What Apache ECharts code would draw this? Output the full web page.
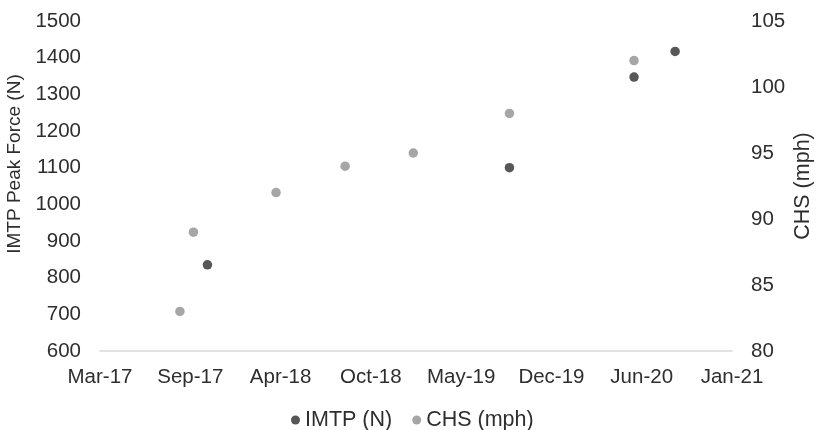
<!DOCTYPE html>
<html>
<head>
<meta charset="utf-8">
<script src="https://cdn.jsdelivr.net/npm/echarts@6/dist/echarts.min.js"></script>
<style>
  html, body { margin: 0; padding: 0; background: #fff; }
  #chart { width: 818px; height: 430px; }
</style>
</head>
<body>
<div id="chart"></div>
<script>
// Test dates and results for each measure
const imtpDates = ['2017-10-30', '2019-08-30', '2020-06-01', '2020-08-31'];
const imtpValues = [835, 1100, 1347, 1417];
const chsDates = ['2017-08-30', '2017-09-29', '2018-03-31', '2018-08-31', '2019-01-29', '2019-08-30', '2020-06-01'];
const chsValues = [83, 89, 92, 94, 95, 98, 102];

// Axis ranges (x in spreadsheet day serials)
const xMin = 42800, xMax = 44200, xStep = 200;
const forceMin = 600, forceMax = 1500, forceStep = 100;
const speedMin = 80, speedMax = 105, speedStep = 5;

const MONTHS = ['Jan','Feb','Mar','Apr','May','Jun','Jul','Aug','Sep','Oct','Nov','Dec'];
const EPOCH = Date.UTC(1899, 11, 30);
const DAY = 86400000;

function toSerial(s) {
  const [y, m, d] = s.split('-').map(Number);
  return Math.round((Date.UTC(y, m - 1, d) - EPOCH) / DAY);
}
function fmtSerial(v) {
  const dt = new Date(EPOCH + v * DAY);
  return MONTHS[dt.getUTCMonth()] + '-' + String(dt.getUTCFullYear() % 100).padStart(2, '0');
}
const plain = v => String(v);

const FONT = 'Liberation Sans, Arial, sans-serif';
const TEXT = '#2e2e2e';
const DARK = '#575757';
const LIGHT = '#a6a6a6';
const TICK_SIZE = 20.5;

const chart = echarts.init(document.getElementById('chart'), null, { renderer: 'canvas' });
chart.setOption({
  animation: false,
  backgroundColor: '#ffffff',
  textStyle: { fontFamily: FONT },
  grid: { left: 100, right: 86, top: 21, bottom: 79, containLabel: false },
  legend: {
    left: 286, top: 404,
    icon: 'circle', itemWidth: 9, itemHeight: 9, itemGap: 20,
    textStyle: { fontFamily: FONT, fontSize: 21.5, color: TEXT },
    data: ['IMTP (N)', 'CHS (mph)']
  },
  xAxis: {
    type: 'value', min: xMin, max: xMax, interval: xStep,
    axisLine: { show: true, lineStyle: { color: '#d9d9d9', width: 1.5 } },
    axisTick: { show: false },
    splitLine: { show: false },
    axisLabel: { formatter: fmtSerial, fontFamily: FONT, fontSize: TICK_SIZE, color: TEXT, margin: 16 }
  },
  yAxis: [
    {
      type: 'value', min: forceMin, max: forceMax, interval: forceStep,
      axisLine: { show: false }, axisTick: { show: false }, splitLine: { show: false },
      axisLabel: { formatter: plain, fontFamily: FONT, fontSize: TICK_SIZE, color: TEXT, margin: 19 }
    },
    {
      type: 'value', position: 'right', min: speedMin, max: speedMax, interval: speedStep,
      axisLine: { show: false }, axisTick: { show: false }, splitLine: { show: false },
      axisLabel: { formatter: plain, fontFamily: FONT, fontSize: TICK_SIZE, color: TEXT, margin: 19 }
    }
  ],
  graphic: [
    {
      type: 'text', x: 14.5, y: 164, rotation: Math.PI / 2,
      style: { text: 'IMTP Peak Force (N)', fontFamily: FONT, fontSize: 19, fill: TEXT,
               textAlign: 'center', textVerticalAlign: 'middle' }
    },
    {
      type: 'text', x: 803, y: 186, rotation: Math.PI / 2,
      style: { text: 'CHS (mph)', fontFamily: FONT, fontSize: 21.5, fill: TEXT,
               textAlign: 'center', textVerticalAlign: 'middle' }
    }
  ],
  series: [
    {
      name: 'IMTP (N)', type: 'scatter', yAxisIndex: 0,
      symbol: 'circle', symbolSize: 9.5,
      itemStyle: { color: DARK, opacity: 1 },
      data: imtpDates.map((d, i) => [toSerial(d), imtpValues[i]])
    },
    {
      name: 'CHS (mph)', type: 'scatter', yAxisIndex: 1,
      symbol: 'circle', symbolSize: 9.5,
      itemStyle: { color: LIGHT, opacity: 1 },
      data: chsDates.map((d, i) => [toSerial(d), chsValues[i]])
    }
  ]
});
</script>
</body>
</html>
